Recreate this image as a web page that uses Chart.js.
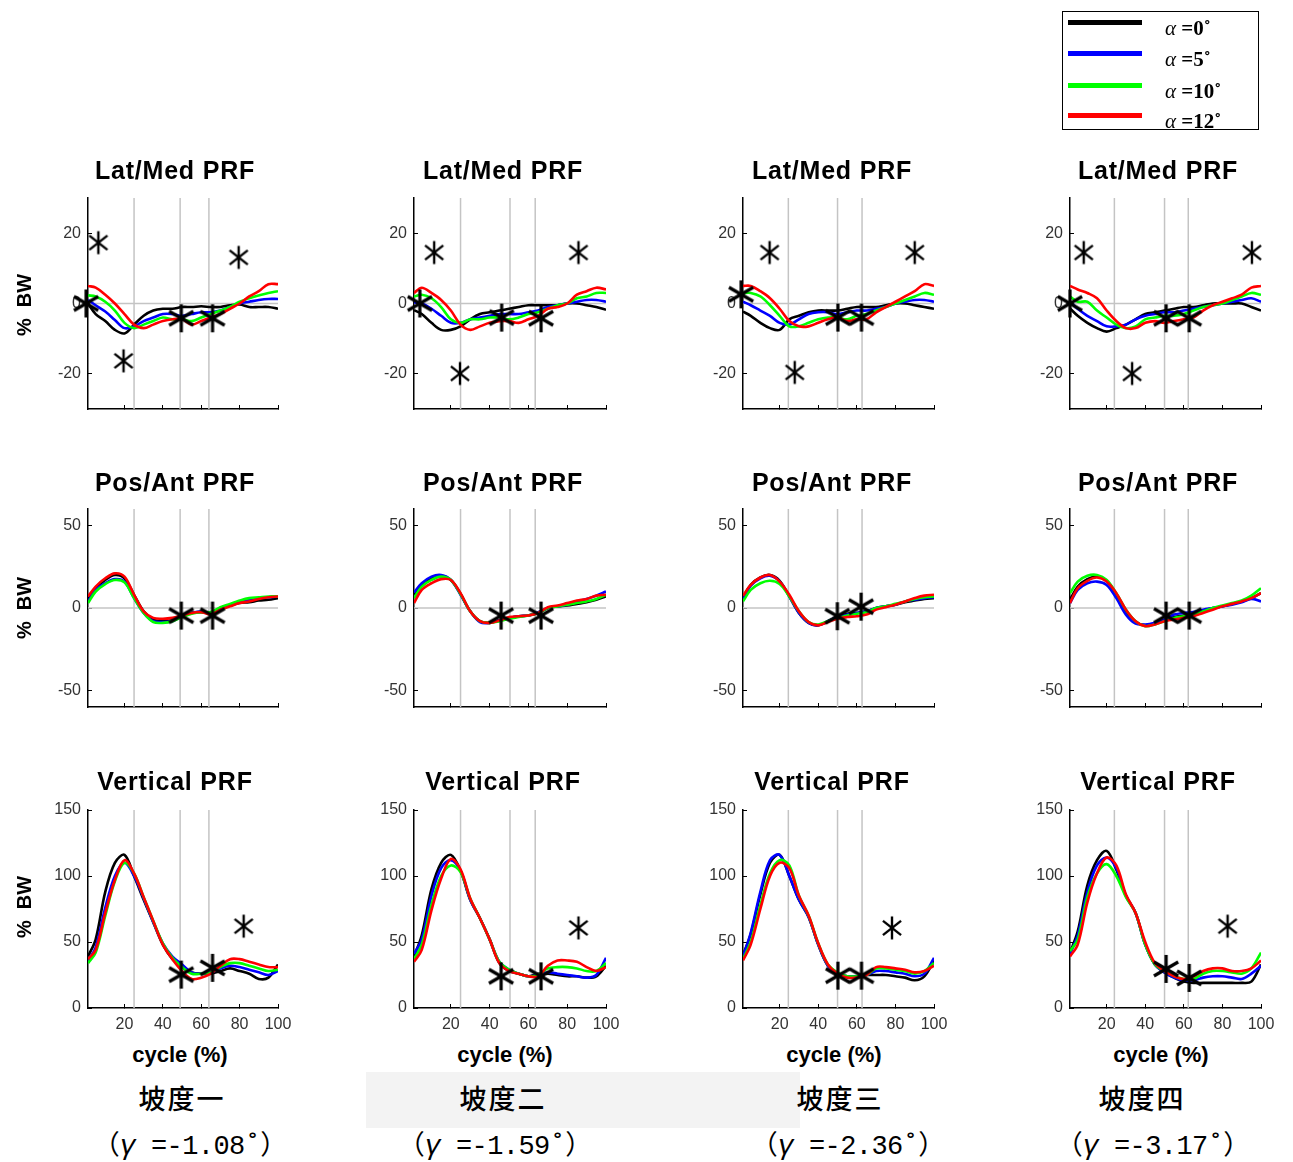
<!DOCTYPE html>
<html>
<head>
<meta charset="utf-8">
<script src="https://cdn.jsdelivr.net/npm/chart.js@4.4.0/dist/chart.umd.min.js"></script>
<style>
  body { margin: 0; background: #fff; width: 1293px; height: 1162px; position: relative; overflow: hidden;
         font-family: "Liberation Sans", Arial, sans-serif; color: #000; }
  canvas { position: absolute; }
  .title { position: absolute; font-weight: bold; font-size: 25px; letter-spacing: 0.8px; transform: translate(-50%, -50%); white-space: nowrap; }
  .xlab { position: absolute; font-weight: bold; font-size: 22px; transform: translate(-50%, -50%); white-space: nowrap; }
  .ylab { position: absolute; font-weight: bold; font-size: 20px; transform: translate(-50%, -50%) rotate(-90deg); white-space: pre; }
  .legend { position: absolute; left: 1062px; top: 11px; width: 195px; height: 117px; border: 1.5px solid #000; background: #fff; }
  .legend .sw { position: absolute; left: 5px; width: 74px; height: 5px; }
  .legend .lb { position: absolute; left: 102px; font-family: "Liberation Serif", "DejaVu Serif", serif; font-size: 21px; font-weight: bold; transform: translateY(-50%); white-space: nowrap; }
  .legend .lb i { font-weight: normal; }
  .slope { position: absolute; font-family: "Noto Sans CJK TC", sans-serif; font-size: 27px; font-weight: 500; transform: translate(-50%, -50%); white-space: nowrap; letter-spacing: 2px; }
  .gamma { position: absolute; font-family: "Liberation Mono", "Noto Sans CJK TC", monospace; font-size: 27px; letter-spacing: -0.6px; transform: translate(-50%, -50%); white-space: pre; }
  .gamma .p { font-family: "Noto Sans CJK TC", sans-serif; letter-spacing: 0; }
  .wm { position: absolute; left: 366px; top: 1072px; width: 434px; height: 56px; background: #f3f3f3; }
</style>
</head>
<body>
<div class="wm"></div>
<script>
// 取樣的步態週期 (%)
const cycle = [1, 5, 10, 15, 20, 25, 30, 35, 40, 45, 50, 55, 60, 65, 70, 75, 80, 85, 90, 95, 100];

const rowTitles = ['Lat/Med PRF', 'Pos/Ant PRF', 'Vertical PRF'];
const slopeNames = ['坡度一', '坡度二', '坡度三', '坡度四'];
const gammaValues = ['-1.08', '-1.59', '-2.36', '-3.17'];
const alphaLabels = ['=0˚', '=5˚', '=10˚', '=12˚'];
const seriesColors = ['#000000', '#0000ff', '#00ff00', '#ff0000'];
const xTicks = [20, 40, 60, 80, 100];
const yTicks = [[-20, 0, 20], [-50, 0, 50], [0, 50, 100, 150]];
const yRange = [[-30, 30], [-60, 60], [0, 150]];

// Lat/Med PRF, 每個坡度一列
const latMedA0 = [
  [0, -3, -5, -7.5, -8.5, -6, -3.5, -2, -1.5, -1.5, -1, -1, -0.8, -1, -1, -0.5, -0.3, -1, -1, -1, -1.5],
  [-1.9, -3, -5.5, -7.5, -7.5, -6.5, -4.5, -3, -2.5, -2, -1.5, -1, -0.5, -0.5, -0.5, -0.5, 0, 0, -0.5, -1, -1.8],
  [-2.3, -3.5, -5.5, -7, -7.5, -4.5, -3.5, -2.5, -2, -2, -2, -1.5, -1, -1, -1, -0.5, 0, 0, -0.5, -1, -1.5],
  [-1.4, -3.5, -5.5, -7, -8, -7, -6, -4.5, -3, -2.5, -2, -1.5, -1, -1, -0.5, 0, 0, 0, 0, -1, -2]
];
const latMedA5 = [
  [1, -0.5, -2.3, -4.7, -7, -6.5, -5, -4, -3, -3, -3.5, -3, -2.5, -2.5, -2, -1, 0, 0.5, 1, 1.3, 1.3],
  [0.3, 0, -1.5, -3.5, -5.5, -5.5, -4.5, -4, -3.5, -3, -3, -3, -2.5, -2, -1, -0.5, 0, 0.5, 1, 1, 0.5],
  [0.5, -0.5, -2, -3.5, -5.5, -6, -4.5, -3, -2.5, -2.5, -3, -2.5, -2, -2, -1.5, -1, 0, 0.5, 1, 1, 0.5],
  [0.5, -1.5, -3.5, -5, -6.5, -6.5, -6, -4.5, -3.5, -3, -2.5, -2.5, -2, -1.5, -1, -0.5, 0, 0.5, 1, 1.5, 0.5]
];
const latMedA10 = [
  [2.3, 2, 0.5, -2, -5.5, -7, -6, -5, -4, -4.5, -4.5, -5, -4, -3, -2, -1, 0.5, 1.5, 2.3, 3, 3.5],
  [2, 2.5, 1.5, -1, -4.5, -5.5, -4.5, -4.5, -4, -4, -4.5, -4, -3, -2.5, -1.5, -0.5, 0, 1.5, 2, 3, 3],
  [3, 3, 2, -0.5, -3.5, -6.5, -6.5, -5.5, -4.5, -4, -4, -4.5, -3.5, -3, -2, -1, 0, 1, 2, 3, 2.5],
  [2, 0.5, 0.5, -2, -4, -6, -7, -6.5, -4.5, -4, -3.5, -3.5, -3, -2, -1, -0.5, 0, 1, 2, 3, 2.5]
];
const latMedA12 = [
  [5, 4.5, 2.5, 0, -3, -6, -7, -6, -5, -4.5, -4.5, -6, -5, -4, -3, -1.5, 0, 2, 3.5, 5.5, 5.5],
  [3, 4.5, 3, 1, -2, -6, -7.5, -6.5, -5.5, -5, -5, -5.5, -4.5, -3.5, -1.5, -1, 0, 2.5, 3.5, 4.5, 4],
  [5, 5, 3.5, 1.5, -1.5, -5, -6.5, -6.5, -5.5, -4.5, -4, -5, -4.5, -4.5, -2.5, -1, 0.5, 2, 3.5, 5.5, 5],
  [5, 4, 3, 1.5, -2, -5, -7, -7, -5.5, -5, -5.5, -5, -4.5, -4, -2, -0.5, 0.5, 1.5, 2.5, 4.5, 5]
];

// Pos/Ant PRF
const posAntA0 = [
  [5, 12, 17, 20, 18, 8, -2, -7, -8, -7.5, -5, -3, -2.5, -3, 0, 1.5, 3, 3.5, 4.5, 5, 6],
  [8, 14, 18, 19.5, 17, 8.5, -2, -8, -9, -7.5, -6, -5, -4.5, -3, 0, 1, 1.5, 2.5, 3.5, 5, 7],
  [6, 14, 18.5, 20, 16.5, 7, -3, -9, -10.5, -8, -5.5, -3.5, -3, -2, 0, 1, 2, 3.5, 4.5, 5.5, 6],
  [5, 13, 17.5, 19, 16.5, 8, -2, -8.5, -10.5, -9.5, -7.5, -5.5, -4.5, -3.5, -1.5, 0, 1, 2.5, 4, 6, 9]
];
const posAntA5 = [
  [4, 11, 15, 17.5, 16, 6, -3, -8, -8.5, -8, -5, -3, -2, -3, 0, 2, 4, 5, 6, 6.5, 7],
  [9.4, 15, 19, 20, 17, 8, -2, -8.5, -9, -7.5, -6, -5, -4.5, -2.5, 0, 1, 2, 4, 5.5, 7.5, 10],
  [5, 13.5, 18, 19.5, 16, 7, -3, -9, -10.5, -8, -5.5, -4, -3, -2, 0, 1, 2, 4, 5, 6, 6.5],
  [3, 11, 15, 16, 14, 6, -4, -9.5, -10, -9, -7, -4, -3, -2.5, -1, 0, 1, 2, 3.5, 5.5, 4]
];
const posAntA10 = [
  [3, 10, 14.5, 17, 15.5, 6, -3, -8.5, -9, -8, -5.5, -3.5, -2.5, -2.5, 0.5, 2.5, 4.5, 6, 6.5, 7, 7],
  [6, 13, 17, 19, 17, 8.5, -2, -8, -9, -8, -6.5, -5.5, -4.5, -3, 0, 1, 2, 3, 4, 5.5, 8],
  [4, 11, 15, 16.5, 14.5, 7, -2, -8.5, -10, -8, -6, -4.5, -3.5, -2.5, 0, 1, 2.5, 4, 5.5, 6.5, 7],
  [9, 16, 19.5, 20, 17, 9, -1, -8, -11, -10, -8, -6, -5, -4, -2, 0, 1.5, 3, 4.5, 7.5, 12]
];
const posAntA12 = [
  [7, 13, 18, 21, 19, 8, -2, -6, -6.5, -6, -4.5, -3, -2.5, -4, -1, 1, 3, 4, 5.5, 6.5, 7],
  [3, 11, 15, 17.5, 17, 9, -2, -8, -9, -7.5, -5.5, -5, -4.5, -3, 0.5, 1.5, 3, 4.5, 5.5, 7.5, 8],
  [7.4, 14, 18.5, 20, 16, 8, -2, -8.5, -10.5, -8.5, -6.5, -5.5, -5, -4, -1, 0.5, 2, 4, 6, 7.5, 8],
  [3, 12, 16.5, 18.5, 16, 9, -1, -8, -11, -10, -8, -7, -6, -5, -3, -1, 1, 2.5, 4, 6, 9]
];

// Vertical PRF
const verticalA0 = [
  [39, 52, 88, 110, 116, 100, 82, 65, 48, 37, 31, 27, 26, 26, 28, 30, 28, 26, 22, 23, 33],
  [39, 55, 90, 110, 116, 104, 82, 68, 52, 34, 28, 26, 24, 26, 26, 25, 24, 24, 23, 24, 32],
  [40, 56, 86, 110, 116, 100, 82, 69, 48, 32, 26, 24, 24, 25, 25, 25, 24, 23, 21, 24, 36],
  [42, 58, 93, 112, 119, 105, 85, 72, 48, 33, 27, 23, 20, 19, 19, 19, 19, 19, 19, 20, 33]
];
const verticalA5 = [
  [36, 46, 76, 100, 110, 100, 83, 65, 49, 39, 33, 27, 26, 27, 30, 32, 31, 29, 27, 25, 28],
  [41, 52, 85, 106, 112, 104, 82, 68, 52, 35, 29, 26, 24, 25, 27, 26, 25, 24, 23, 25, 38],
  [39, 57, 88, 112, 116, 100, 82, 69, 48, 32, 26, 24, 24, 25, 28, 28, 27, 26, 24, 26, 38],
  [41, 55, 88, 108, 114, 106, 85, 72, 48, 33, 27, 23, 21, 21, 23, 24, 24, 23, 22, 26, 32]
];
const verticalA10 = [
  [34, 42, 70, 96, 110, 102, 84, 66, 49, 38, 31, 26, 26, 27, 31, 34, 34, 32, 30, 28, 29],
  [37, 48, 78, 100, 108, 103, 83, 68, 52, 35, 29, 26, 24, 25, 30, 31, 31, 30, 28, 28, 34],
  [37, 50, 78, 102, 112, 108, 85, 70, 49, 33, 27, 24, 24, 25, 30, 30, 29, 28, 26, 28, 34],
  [43, 52, 84, 102, 109, 100, 84, 72, 48, 33, 28, 24, 22, 22, 26, 28, 28, 27, 26, 30, 42]
];
const verticalA12 = [
  [37, 44, 72, 97, 112, 102, 84, 66, 48, 37, 28, 22, 23, 26, 32, 37, 37, 35, 33, 31, 31],
  [35, 44, 74, 98, 113, 105, 83, 68, 52, 34, 28, 26, 24, 24, 32, 36, 36, 35, 31, 28, 31],
  [36, 48, 75, 100, 110, 106, 85, 70, 49, 33, 26, 23, 23, 25, 31, 31, 30, 29, 27, 28, 32],
  [39, 48, 80, 102, 114, 108, 86, 72, 50, 34, 28, 24, 22, 24, 28, 30, 30, 28, 28, 30, 36]
];

// 灰色分期線 (cycle %)
const phaseLines = [[25, 49, 64], [25, 50.5, 63.5], [24.5, 50, 62.7], [24, 50, 62.3]];

// 顯著差異標記 [x, y]
const latMedBigStars = [
  [[0, 0], [49.6, -4.2], [65.9, -4.2]],
  [[4, 0], [46.2, -4], [66.5, -4.2]],
  [[0, 2.6], [50.2, -4], [62.4, -4]],
  [[1, 0], [50.8, -4.2], [62.8, -4.2]]
];
const latMedSmallStars = [
  [[6.4, 17.3], [19.5, -16.3], [79.5, 13.1]],
  [[11.4, 14.5], [24.7, -19.9], [85.8, 14.5]],
  [[14.8, 14.5], [27.8, -19.6], [90, 14.5]],
  [[8.1, 14.5], [33.2, -19.9], [95.3, 14.5]]
];
const posAntBigStars = [
  [[49.6, -4.6], [65.9, -4.6]],
  [[45.9, -4.6], [66.5, -4.6]],
  [[49.9, -5], [62.2, 0.8]],
  [[50.8, -4.6], [62.8, -4.6]]
];
const verticalBigStars = [
  [[49.6, 25.3], [65.9, 30.4]],
  [[45.9, 24], [66.5, 24]],
  [[50.2, 24.5], [62.4, 24.5]],
  [[50.8, 29.6], [62.8, 22.8]]
];
const verticalSmallStars = [
  [[82.1, 62]],
  [[85.8, 60.7]],
  [[78.2, 60.7]],
  [[82.7, 62]]
];

const rowSeries = [
  [latMedA0, latMedA5, latMedA10, latMedA12],
  [posAntA0, posAntA5, posAntA10, posAntA12],
  [verticalA0, verticalA5, verticalA10, verticalA12]
];
const rowBigStars = [latMedBigStars, posAntBigStars, verticalBigStars];
const rowSmallStars = [latMedSmallStars, null, verticalSmallStars];

// 版面位置 (px)
const colLeft = [88, 414, 743, 1070];
const colRight = [278, 606, 934, 1261];
const rowTop = [198, 509, 810];
const rowBottom = [412, 710, 1008];
const titleX = [175, 503, 832, 1158];
const titleY = [170, 482, 781];
const xlabX = [180, 505, 834, 1161];
const captionX = [182, 503, 840, 1142];
const gammaX = [190, 495, 848, 1153];

function makeStar(r, lw, ang) {
  const cv = document.createElement('canvas');
  const s = Math.ceil(2 * r + lw + 2);
  cv.width = s;
  cv.height = s;
  const g = cv.getContext('2d');
  g.translate(s / 2, s / 2);
  g.strokeStyle = '#000';
  g.lineWidth = lw;
  [90, ang, 180 - ang].forEach(function(a) {
    const rad = a * Math.PI / 180;
    g.beginPath();
    g.moveTo(-r * Math.cos(rad), -r * Math.sin(rad));
    g.lineTo(r * Math.cos(rad), r * Math.sin(rad));
    g.stroke();
  });
  return cv;
}
const bigStar = makeStar(14, 3.2, 30);
const smallStar = makeStar(11.5, 2.4, 38);

function addDiv(cls, html, x, y) {
  const d = document.createElement('div');
  d.className = cls;
  d.innerHTML = html;
  d.style.left = x + 'px';
  d.style.top = y + 'px';
  document.body.appendChild(d);
  return d;
}

const tickFont = { family: '"Liberation Sans", Arial, sans-serif', size: 16 };

function makePanel(r, c) {
  const padL = 60, padT = 18, padR = 18;
  const padB = r === 2 ? 34 : 8;
  const w = colRight[c] - colLeft[c];
  const h = rowBottom[r] - rowTop[r];
  const cv = document.createElement('canvas');
  cv.width = w + padL + padR;
  cv.height = h + padT + padB;
  cv.style.left = (colLeft[c] - padL) + 'px';
  cv.style.top = (rowTop[r] - padT) + 'px';
  document.body.appendChild(cv);

  const yMin = yRange[r][0], yMax = yRange[r][1];
  const datasets = [];

  // 分期線與零線
  phaseLines[c].forEach(function(x) {
    datasets.push({ data: [{ x: x, y: yMin }, { x: x, y: yMax }], showLine: true, borderColor: '#c4c4c4',
      borderWidth: 1.5, pointRadius: 0, order: 5 });
  });
  if (r < 2) {
    datasets.push({ data: [{ x: 1, y: 0 }, { x: 100, y: 0 }], showLine: true, borderColor: '#c4c4c4',
      borderWidth: 1.5, pointRadius: 0, order: 5 });
  }

  rowSeries[r].forEach(function(series, k) {
    datasets.push({
      data: cycle.map(function(x, i) { return { x: x, y: series[c][i] }; }),
      showLine: true, borderColor: seriesColors[k], borderWidth: 2.6, pointRadius: 0,
      tension: 0.35, borderJoinStyle: 'round', order: 4 - k
    });
  });

  datasets.push({
    data: rowBigStars[r][c].map(function(p) { return { x: p[0], y: p[1] }; }),
    showLine: false, pointStyle: bigStar, pointRadius: 10, clip: false, order: 0
  });
  if (rowSmallStars[r]) {
    datasets.push({
      data: rowSmallStars[r][c].map(function(p) { return { x: p[0], y: p[1] }; }),
      showLine: false, pointStyle: smallStar, pointRadius: 10, clip: false, order: 0
    });
  }

  new Chart(cv.getContext('2d'), {
    type: 'scatter',
    data: { datasets: datasets },
    options: {
      responsive: false,
      animation: false,
      events: [],
      layout: { padding: { top: padT, right: padR, left: 0, bottom: 0 } },
      plugins: { legend: { display: false }, tooltip: { enabled: false } },
      scales: {
        x: {
          type: 'linear', min: 1, max: 100, position: 'bottom',
          afterBuildTicks: function(s) { s.ticks = xTicks.map(function(v) { return { value: v }; }); },
          afterFit: function(s) { s.height = padB; s.paddingLeft = 0; s.paddingRight = 0; },
          grid: { drawOnChartArea: false, drawTicks: true, tickLength: -4, color: '#000', lineWidth: 1 },
          border: { display: true, color: '#000', width: 1.5 },
          ticks: {
            padding: 11, font: tickFont, color: '#333', maxRotation: 0, autoSkip: false,
            callback: function(v) { return r === 2 ? String(v) : ''; }
          }
        },
        y: {
          type: 'linear', min: yMin, max: yMax,
          afterBuildTicks: function(s) { s.ticks = yTicks[r].map(function(v) { return { value: v }; }); },
          afterFit: function(s) { s.width = padL; s.paddingTop = 0; s.paddingBottom = 0; },
          grid: { drawOnChartArea: false, drawTicks: true, tickLength: -4, color: '#000', lineWidth: 1 },
          border: { display: true, color: '#000', width: 1.5 },
          ticks: { padding: 11, font: tickFont, color: '#333', autoSkip: false }
        }
      }
    }
  });

  addDiv('title', rowTitles[r], titleX[c], titleY[r]);
}

for (let r = 0; r < 3; r++) {
  for (let c = 0; c < 4; c++) makePanel(r, c);
}

// 軸標題
[305, 608, 907].forEach(function(y) { addDiv('ylab', '%  BW', 24, y); });
xlabX.forEach(function(x) { addDiv('xlab', 'cycle (%)', x, 1055); });

// 坡度說明
slopeNames.forEach(function(s, c) {
  addDiv('slope', s, captionX[c], 1097);
  addDiv('gamma', '<span class="p">（</span><i>γ</i> =' + gammaValues[c] + '˚<span class="p">）</span>', gammaX[c], 1142);
});

// 圖例
const legend = document.createElement('div');
legend.className = 'legend';
document.body.appendChild(legend);
[11, 42, 74, 104].forEach(function(top, k) {
  const sw = document.createElement('div');
  sw.className = 'sw';
  sw.style.top = (top - 11 + 8) + 'px';
  sw.style.background = seriesColors[k];
  legend.appendChild(sw);
  const lb = document.createElement('div');
  lb.className = 'lb';
  lb.style.top = (top - 11 + 16) + 'px';
  lb.innerHTML = '<i>α</i> ' + alphaLabels[k];
  legend.appendChild(lb);
});
</script>
</body>
</html>
